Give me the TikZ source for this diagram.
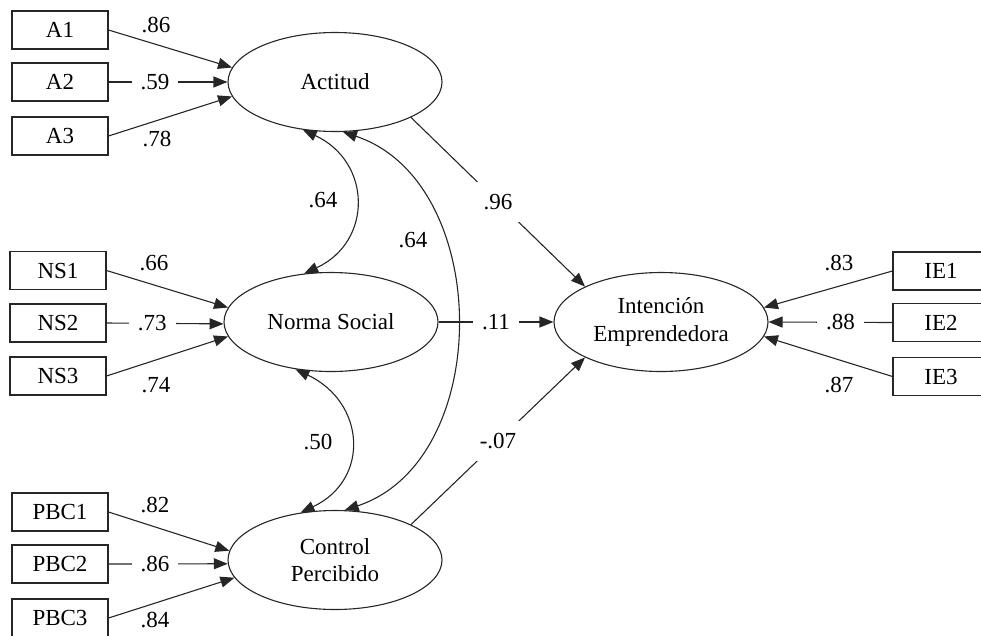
\documentclass[tikz,border=0pt]{standalone}
\usepackage{fontspec}
\setmainfont{Liberation Serif}
\usetikzlibrary{shapes.geometric,arrows.meta}
\begin{document}
\begin{tikzpicture}[x=1pt,y=-1pt,
  every node/.style={font=\fontsize{23}{27.5}\selectfont},
  ind/.style={draw=black!85, line width=1.1pt, minimum width=96pt, minimum height=38pt, inner sep=0pt},
  lat/.style={draw=black!85, line width=1.1pt, ellipse, minimum width=214pt, minimum height=99pt, inner sep=0pt, align=center},
  conn/.style={draw=black!85, line width=1.1pt, -{Triangle[length=14pt,width=11pt]}},
  cov/.style={draw=black!85, line width=1.1pt, {Triangle[length=14pt,width=11pt]}-{Triangle[length=14pt,width=11pt]}},
  gap/.style={fill=white, inner xsep=9pt, inner ysep=4pt},
  dgap/.style={fill=white, inner sep=12pt},
  lbl/.style={inner sep=0pt}
]
\useasboundingbox (0,0) rectangle (981,635);

% latent variables
\node[lat] (act) at (335,82) {Actitud};
\node[lat] (ns) at (331,322) {Norma Social};
\node[lat] (cp) at (335,560) {Control\\Percibido};
\node[lat] (int) at (661,322) {Intención\\Emprendedora};

% indicators
\node[ind] (a1) at (60,30) {A1};
\node[ind] (a2) at (60,82) {A2};
\node[ind] (a3) at (60,136) {A3};
\node[ind] (ns1) at (58,270.5) {NS1};
\node[ind] (ns2) at (58,323) {NS2};
\node[ind] (ns3) at (58,376) {NS3};
\node[ind] (pbc1) at (60,512) {PBC1};
\node[ind] (pbc2) at (60,564) {PBC2};
\node[ind] (pbc3) at (60,618) {PBC3};
\node[ind] (ie1) at (941,271) {IE1};
\node[ind] (ie2) at (941,322.5) {IE2};
\node[ind] (ie3) at (941,376.5) {IE3};

% loadings
\draw[conn] (a1.east) -- (act.172);
\draw[conn] (a2.east) -- node[gap,pos=0.39] (l59) {.59} (act.west);
\draw[conn] (a3.east) -- (act.188);
\draw[conn] (ns1.east) -- (ns.172);
\draw[conn] (ns2.east) -- node[gap,pos=0.39] (l73) {.73} (ns.181);
\draw[conn] (ns3.east) -- (ns.188);
\draw[conn] (pbc1.east) -- (cp.175);
\draw[conn] (pbc2.east) -- node[gap,pos=0.39] (l86b) {.86} (cp.182);
\draw[conn] (pbc3.east) -- (cp.190);
\draw[conn] (ie1.west) -- (int.8);
\draw[conn] (ie2.west) -- node[gap,pos=0.42] (l88) {.88} (int.east);
\draw[conn] (ie3.west) -- (int.352);

\node[lbl] (l86) at (156,25) {.86};
\node[lbl] (l78) at (157,139) {.78};
\node[lbl] (l66) at (154,263) {.66};
\node[lbl] (l74) at (156,385) {.74};
\node[lbl] (l82) at (155,505) {.82};
\node[lbl] (l84) at (155,620) {.84};
\node[lbl] (l83) at (839,263) {.83};
\node[lbl] (l87) at (839,385) {.87};

% structural paths
\draw[conn] (act.-25) -- node[dgap] (l96) {.96} (int.155);
\draw[conn] (ns.east) -- node[gap] (l11) {.11} (int.west);
\draw[conn] (cp.25) -- node[dgap] (l07) {-.07} (int.205);

% covariances
\draw[cov] (act.236) .. controls +(69,32) and +(69,-32) .. (ns.119);
\draw[cov] (ns.233) .. controls +(70,33) and +(70,-33) .. (cp.126);
\draw[cov] (act.279) .. controls +(150,50) and +(150,-50) .. (cp.79);
\node[lbl] (c1) at (323,200) {.64};
\node[lbl] (c2) at (318,442) {.50};
\node[lbl] (c3) at (413,240) {.64};
\end{tikzpicture}
\end{document}
